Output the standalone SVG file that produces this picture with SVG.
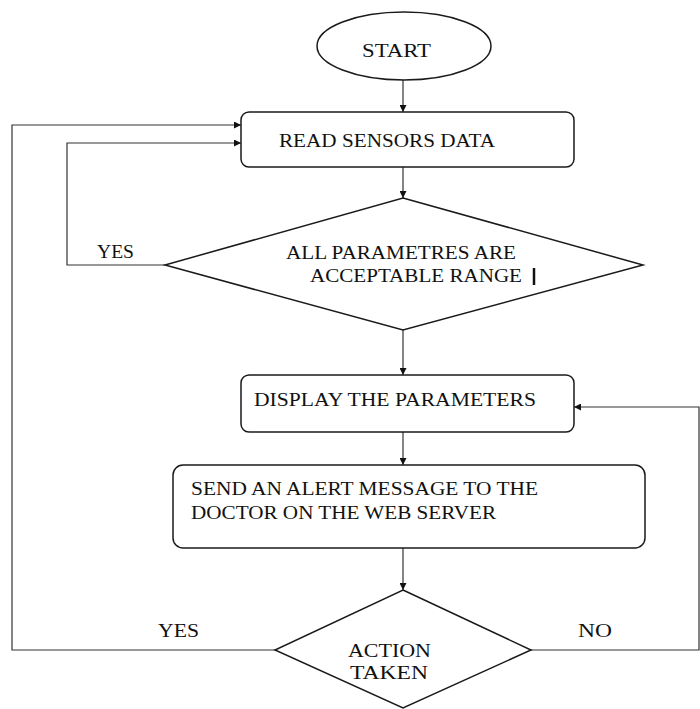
<svg xmlns="http://www.w3.org/2000/svg" width="700" height="709" viewBox="0 0 700 709">
<style>
.shape{fill:#fff;stroke:#1a1a1a;stroke-width:1.5}
.conn{fill:none;stroke:#333;stroke-width:1.2}
text{font-family:"Liberation Serif","Times New Roman",serif;font-size:19px;fill:#111}
</style>
<defs>
<marker id="arr" viewBox="0 0 10 10" refX="10" refY="5" markerWidth="7" markerHeight="7" orient="auto" markerUnits="userSpaceOnUse">
<path d="M0,0 L10,5 L0,10 z" fill="#111"/>
</marker>
</defs>
<rect width="700" height="709" fill="#fff"/>
<g id="connectors">
<line class="conn" x1="403" y1="80" x2="403" y2="112" marker-end="url(#arr)"/>
<line class="conn" x1="403" y1="167" x2="403" y2="198" marker-end="url(#arr)"/>
<line class="conn" x1="403" y1="330" x2="403" y2="375" marker-end="url(#arr)"/>
<line class="conn" x1="403" y1="432" x2="403" y2="465" marker-end="url(#arr)"/>
<line class="conn" x1="403" y1="548" x2="403" y2="590" marker-end="url(#arr)"/>
<polyline class="conn" points="165,265 67,265 67,143 241,143" marker-end="url(#arr)"/>
<polyline class="conn" points="275,650 12,650 12,125 241,125" marker-end="url(#arr)"/>
<polyline class="conn" points="531,650 699,650 699,407 574,407" marker-end="url(#arr)"/>
<text x="97" y="258" textLength="37" lengthAdjust="spacingAndGlyphs">YES</text>
<text x="158" y="637" textLength="41" lengthAdjust="spacingAndGlyphs">YES</text>
<text x="578" y="637" textLength="34" lengthAdjust="spacingAndGlyphs">NO</text>
</g>
<g id="start">
<ellipse class="shape" cx="404" cy="46" rx="87" ry="34"/>
<text x="362" y="57" textLength="69" lengthAdjust="spacingAndGlyphs">START</text>
</g>
<g id="read">
<rect class="shape" x="241" y="112" width="333" height="55" rx="8"/>
<text x="279" y="147" textLength="216" lengthAdjust="spacingAndGlyphs">READ SENSORS DATA</text>
</g>
<g id="check">
<polygon class="shape" points="403,198 643,265 403,330 165,265"/>
<text x="286" y="259" textLength="230" lengthAdjust="spacingAndGlyphs">ALL PARAMETRES ARE</text>
<text x="310" y="282" textLength="212" lengthAdjust="spacingAndGlyphs">ACCEPTABLE RANGE</text>
<line x1="534" y1="268" x2="534" y2="285" stroke="#111" stroke-width="2.5"/>
</g>
<g id="display">
<rect class="shape" x="241" y="375" width="333" height="57" rx="8"/>
<text x="254" y="406" textLength="282" lengthAdjust="spacingAndGlyphs">DISPLAY THE PARAMETERS</text>
</g>
<g id="alert">
<rect class="shape" x="173" y="465" width="472" height="83" rx="10"/>
<text x="191" y="495" textLength="347" lengthAdjust="spacingAndGlyphs">SEND AN ALERT MESSAGE TO THE</text>
<text x="191" y="519" textLength="305" lengthAdjust="spacingAndGlyphs">DOCTOR ON THE WEB SERVER</text>
</g>
<g id="action">
<polygon class="shape" points="403,590 531,650 403,708 275,650"/>
<text x="348" y="657" textLength="83" lengthAdjust="spacingAndGlyphs">ACTION</text>
<text x="350" y="679" textLength="78" lengthAdjust="spacingAndGlyphs">TAKEN</text>
</g>
</svg>
